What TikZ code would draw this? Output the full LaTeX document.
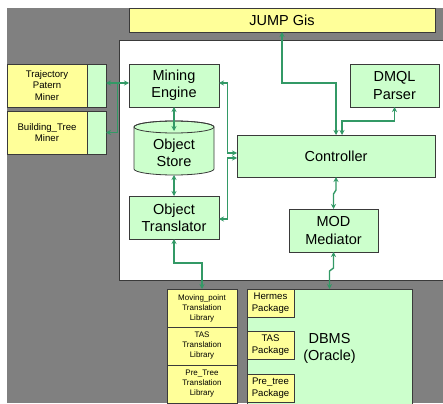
\documentclass[tikz,border=0pt]{standalone}
\usepackage{fontspec}
\setmainfont{Liberation Sans}
\usetikzlibrary{arrows.meta,calc}
\definecolor{panelgray}{HTML}{808080}
\definecolor{boxgreen}{HTML}{CCFFCC}
\definecolor{boxyellow}{HTML}{FFFF99}
\definecolor{linkgreen}{HTML}{339966}
\definecolor{edgegray}{HTML}{3A3A3A}
\begin{document}
\begin{tikzpicture}[x=1pt,y=-1pt,
  box/.style={draw=edgegray, line width=0.8pt, fill=boxgreen, anchor=north west,
    inner sep=1pt, outer sep=0pt, align=center,
    font=\fontsize{14.5}{17.3}\selectfont},
  ybox/.style={box, fill=boxyellow},
  minerbox/.style={ybox, font=\fontsize{9.6}{11.7}\selectfont},
  libbox/.style={ybox, minimum width=70pt, minimum height=38pt,
    font=\fontsize{8}{10}\selectfont},
  pkgbox/.style={ybox, minimum width=47pt, minimum height=28.5pt,
    font=\fontsize{9.6}{11.7}\selectfont},
  link/.style={draw=linkgreen, line width=1.4pt, {Stealth[length=5pt,width=5pt]}-{Stealth[length=5pt,width=5pt]}},
  linkend/.style={draw=linkgreen, line width=1.4pt, -{Stealth[length=5pt,width=5pt]}}
]
\useasboundingbox (0,0) rectangle (443,403);
\fill[white] (0,0) rectangle (443,403);

% background areas
\fill[panelgray] (7,8) rectangle (443,403);
\filldraw[fill=white, draw=edgegray, line width=0.8pt] (119,40) rectangle (444,280);

% top application box
\node[ybox, minimum width=306pt, minimum height=24pt] (jump) at (129,8) {JUMP Gis};

% miner plug-ins
\node[minerbox, minimum width=80pt, minimum height=43pt] (trajminer) at (7,64) {Trajectory\\Patern\\Miner};
\node[box, minimum width=19pt, minimum height=43pt] (trajtab) at (87,64) {};
\node[minerbox, minimum width=80pt, minimum height=43pt] (buildminer) at (7,111) {Building\_Tree\\Miner};
\node[box, minimum width=19pt, minimum height=43pt] (buildtab) at (87,111) {};

% core components
\node[box, minimum width=90pt, minimum height=43pt] (mining) at (129,64) {Mining\\Engine};
\node[box, minimum width=89pt, minimum height=43pt] (dmql) at (350,64) {DMQL\\Parser};
\node[box, minimum width=198pt, minimum height=42pt] (controller) at (237,135) {Controller};
\node[box, minimum width=90pt, minimum height=43pt] (translator) at (129,196) {Object\\Translator};
\node[box, minimum width=89pt, minimum height=43pt] (mediator) at (289,209) {MOD\\Mediator};

% object store cylinder
\path[fill=boxgreen, draw=edgegray, line width=0.8pt]
  (134,127) -- (134,169) arc[start angle=180, end angle=0, x radius=40, y radius=6]
  -- (214,127) arc[start angle=0, end angle=-180, x radius=40, y radius=6] -- cycle;
\draw[edgegray, line width=0.8pt] (174,127) ellipse[x radius=40, y radius=6];
\node[anchor=north west, inner sep=0pt, outer sep=0pt, minimum width=80pt, minimum height=44pt,
  align=center, font=\fontsize{14.5}{17.3}\selectfont] (store) at (134,131) {Object\\Store};

% translation libraries
\node[libbox] (libmp) at (167,289) {Moving\_point\\Translation\\Library};
\node[libbox] (libtas) at (167,327) {TAS\\Translation\\Library};
\node[libbox] (libpre) at (167,365) {Pre\_Tree\\Translation\\Library};

% database
\node[box, minimum width=165pt, minimum height=116pt, text depth=0pt] (dbms) at (247,289) {DBMS\\(Oracle)};
\node[pkgbox] (hermes) at (247,289) {Hermes\\Package};
\node[pkgbox] (taspkg) at (247,331) {TAS\\Package};
\node[pkgbox] (prepkg) at (247,374) {Pre\_tree\\Package};

% connectors
\draw[link] (jump.south) -- ++(0,51) -| (controller.north);
\draw[link] (dmql.south) -- ++(0,14) -| ([xshift=6pt]controller.north);
\draw[link] (mining.south) -- (store.north);
\draw[link] (store.south) -- (translator.north);
\draw[link] ([yshift=2.5pt]mining.east) -- ++(8.5,0) |- ([yshift=3pt]controller.west);
\draw[link] ([yshift=-1.5pt]translator.east) -- ++(8.5,0) |- ([yshift=-2pt]controller.west);
\draw[link] ([yshift=2.5pt]trajtab.east) -- ([yshift=2.5pt]mining.west);
\draw[linkend] ($([yshift=2.5pt]trajtab.east)!0.5!([yshift=2.5pt]mining.west)$) |- (buildtab.east);
\draw[link] (translator.south) -- ++(0,24) -| (libmp.north);
\draw[link] (controller.south) -- ++(0,13) -- ++(-2.5,4) -- (mediator.north);
\draw[link] (mediator.south) -- ++(0,16) -- ++(-4,3) -- (dbms.north);
\end{tikzpicture}
\end{document}
